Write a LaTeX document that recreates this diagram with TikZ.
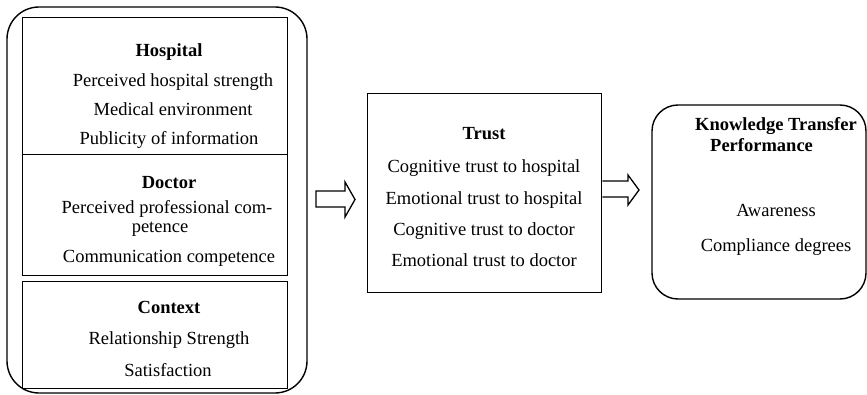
\documentclass[tikz,border=0pt]{standalone}
\usepackage{fontspec}
\setmainfont{Liberation Serif}
\usetikzlibrary{calc}
\begin{document}
\begin{tikzpicture}[x=1pt,y=-1pt,
  every node/.style={font=\fontsize{18.5}{22}\selectfont, text height=13pt, text depth=4pt, inner sep=0pt},
  head/.style={font=\fontsize{18.5}{22}\selectfont\bfseries},
  frame/.style={draw, line width=1.4pt},
  blockarrow/.style={draw, line width=1.3pt, fill=white, line join=miter}]
\useasboundingbox (0,0) rectangle (867,395);

% left group: hospital, doctor and context factors
\draw[frame, rounded corners=32pt] (7,7) rectangle (307,393);
\node[frame, minimum width=265pt, minimum height=137pt, anchor=north west] (hosp) at (22,17) {};
\node[frame, minimum width=265pt, minimum height=121pt, anchor=north west] (doc) at (22,154) {};
\node[frame, minimum width=265pt, minimum height=107pt, anchor=north west] (ctx) at (22,281) {};

\node[head] (h0) at (169,52) {Hospital};
\node (h1) at (173,82) {Perceived hospital strength};
\node (h2) at (173,111) {Medical environment};
\node (h3) at (169,140) {Publicity of information};

\node[head] (d0) at (169,184) {Doctor};
\node (d1) at (167,209) {Perceived professional com-};
\node (d2) at (160,228) {petence};
\node (d3) at (169,258) {Communication competence};

\node[head] (c0) at (169,309) {Context};
\node (c1) at (169,340) {Relationship Strength};
\node (c2) at (168,372) {Satisfaction};

% trust box
\node[frame, minimum width=234pt, minimum height=199pt, anchor=north west] (trust) at (367,93) {};
\node[head] (t0) at (484,135) {Trust};
\node (t1) at (484,168) {Cognitive trust to hospital};
\node (t2) at (484,200) {Emotional trust to hospital};
\node (t3) at (484,231) {Cognitive trust to doctor};
\node (t4) at (484,262) {Emotional trust to doctor};

% outcome box
\draw[frame, rounded corners=26pt] (652,105) rectangle (866,299);
\node[head, align=left, anchor=north west, text height=, text depth=] (k0) at (695,117)
  {Knowledge Transfer\\[-1pt]\hspace*{15pt}Performance};
\node (k1) at (776,212) {Awareness};
\node (k2) at (776,247) {Compliance degrees};

% hollow block arrows
\draw[blockarrow] (316,191) -- (345,191) -- (345,182) -- (355,199.5) -- (345,217) -- (345,207) -- (316,207) -- cycle;
\draw[blockarrow] (trust.east |- 0,181) -- (628,181) -- (628,175) -- (639,190) -- (628,205) -- (628,197) -- (trust.east |- 0,197);
\end{tikzpicture}
\end{document}
